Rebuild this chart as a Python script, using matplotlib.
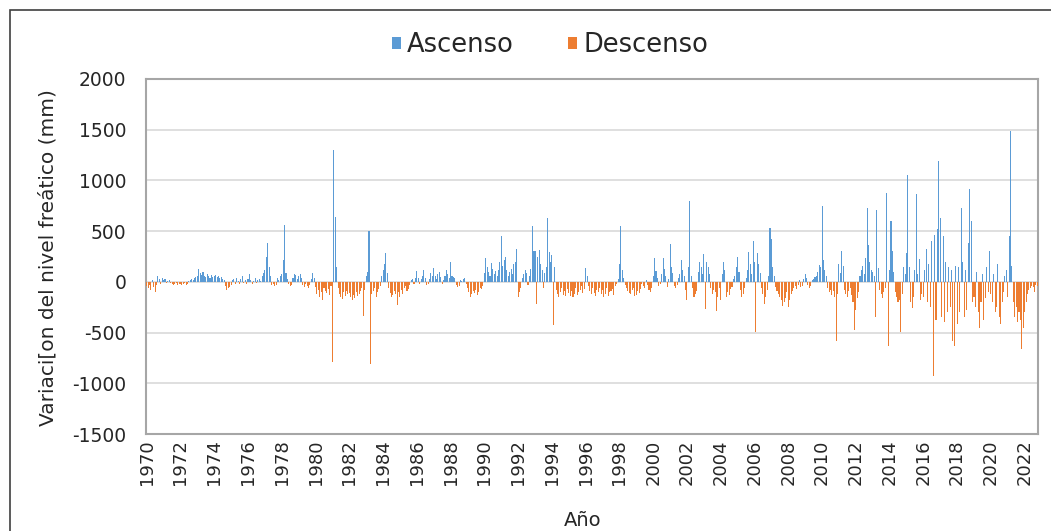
import numpy as np
import matplotlib.pyplot as plt
from matplotlib.patches import Patch, Rectangle

plt.rcParams["font.family"] = ["DejaVu Sans"]
plt.rcParams["axes.unicode_minus"] = False
plt.rcParams["text.color"] = "#262626"
plt.rcParams["xtick.color"] = "#262626"
plt.rcParams["ytick.color"] = "#262626"

# Monthly water-table change (mm), one row of 12 months per year
v1970s = [
    [-40, -60, -30, -80, 20, -50, -100, -30, 60, 30, -20, 40],        # 1970
    [20, 30, -10, 10, 20, -10, -20, -30, -20, -10, -30, -20],         # 1971
    [-20, -30, -20, -10, -30, -20, 10, 20, 30, 20, 40, 50],           # 1972
    [60, 130, 90, 70, 100, 60, 50, 80, 60, 40, 70, 50],               # 1973
    [60, 70, 50, 60, 40, 50, 30, 20, -40, -80, -60, -50],             # 1974
    [-30, 20, 30, -20, 40, 10, -20, 30, 60, -10, 20, -20],            # 1975
    [30, 80, 20, -20, 10, 40, -10, 20, 30, 10, 60, 90],               # 1976
    [120, 250, 380, 150, 60, -30, -20, -40, -30, 40, 20, 60],         # 1977
    [80, 220, 560, 90, 30, -20, -40, -30, 40, 80, 70, 30],            # 1978
    [60, 80, 40, -30, -50, -20, -40, -60, -30, 30, 90, 40],           # 1979
]
v1980s = [
    [-50, -120, -80, -150, -100, -180, -60, -90, -110, -70, -130, -40],
    [-790, 1300, 640, 150, -60, -120, -150, -170, -100, -140, -90, -120],
    [-110, -150, -180, -130, -160, -100, -140, -120, -90, -60, -335, -80],
    [60, 100, 500, -810, -120, -90, -60, -150, -100, -70, -40, 60],
    [120, 180, 285, 90, -60, -110, -150, -130, -90, -120, -230, -100],
    [-150, -80, -120, -60, -40, -90, -70, -30, 20, 30, -20, 40],
    [110, 40, -20, 30, 60, 120, 40, -30, -20, 30, 90, 60],
    [140, 60, 30, 80, 100, 50, -20, 20, 60, 120, 80, 40],
    [200, 60, 50, 40, -30, -50, -40, 20, 10, 30, 40, -20],
    [-60, -100, -150, -120, -90, -110, -80, -130, -100, -60, -70, -40],
]
v1990s = [
    [90, 240, 150, 100, 60, 190, 130, 80, 110, 60, 120, 200],
    [450, 160, 220, 250, 120, 60, 100, 130, 80, 180, 200, 325],
    [-150, -100, -60, 40, 80, 120, 90, -30, 60, 130, 550, 300],
    [300, -220, 250, 310, 180, 120, -60, 90, 150, 630, 290, 200],
    [260, -430, 150, -80, -120, -150, -100, -60, -130, -90, -140, -70],
    [-110, -140, -90, -150, -120, -60, -130, -100, -80, -40, -110, -70],
    [140, 60, -40, -90, -120, -60, -110, -140, -80, -100, -60, -120],
    [-80, -150, -120, -60, -140, -100, -90, -70, -130, -40, -20, 30],
    [180, 550, 120, 40, -30, -60, -90, -110, -120, -80, -60, -140],
    [-130, -90, -110, -70, -20, -40, -60, 20, -30, -80, -100, -60],
]
v2000s = [
    [60, 240, 110, 40, -40, -20, 80, 240, 130, 60, -50, 30],
    [375, 150, 90, -40, -60, -30, 40, 80, 220, 120, 60, -80],
    [-180, 150, 800, 60, -60, -150, -120, -90, 100, 200, 150, 80],
    [275, -265, 200, 150, 80, -60, -120, -80, -100, -285, -150, -60],
    [-180, 80, 200, 120, -150, -100, -130, -70, -50, 30, 60, 150],
    [250, 100, -80, -150, -120, -60, 40, 120, 290, 180, 80, 400],
    [200, -490, 280, 180, 90, -60, -120, -215, -150, -80, 60, 530],
    [420, 150, 60, -50, -90, -120, -150, -180, -235, -200, -160, -100],
    [-250, -180, -120, -90, -60, -40, -70, -30, 20, -50, -40, 30],
    [80, 40, -30, -60, -40, 20, 30, 50, 60, 100, 170, 150],
]
v2010s = [
    [750, 220, 120, 60, -60, -100, -80, -130, -90, -150, -580, -120],
    [180, 90, 300, 160, -80, -120, -150, -90, -60, -130, -200, -470],
    [-280, -160, -100, 60, 120, 160, 80, 240, 730, 360, 200, 120],
    [100, 60, -350, 710, 140, -80, -120, -160, -100, -60, 880, -630],
    [120, 600, 300, 100, -100, -150, -200, -180, -490, -120, 150, 80],
    [280, 1050, 150, -200, -260, -150, 120, 870, 80, 230, -180, -120],
    [-150, 120, 325, -200, 180, -250, 400, -930, 460, -380, 520, 1190],
    [630, -350, 450, -400, 200, -300, 150, -250, 120, -580, -630, 160],
    [-420, 150, -300, 730, 200, -350, 120, -280, 380, 920, 600, -200],
    [-150, -250, 100, -300, -450, -200, 80, -380, -160, 150, -100, 300],
]
v2020s = [
    [-120, -200, 80, -300, -250, 175, -350, -420, -200, -100, 60, 120],
    [-150, 450, 1490, 160, -200, -350, -250, -400, -300, -380, -660, -450],
    [-300, -200, -120, -80, -60, -40, -50, -100, -30, -40],            # 2022 (to Oct)
]

first_year, last_year = 1970, 2022
blue = "#5B9BD5"
orange = "#ED7D31"

monthly = np.array(
    [v for decade in (v1970s, v1980s, v1990s, v2000s, v2010s, v2020s)
     for year in decade for v in year], dtype=float)
ascenso = np.where(monthly > 0, monthly, 0)
descenso = np.where(monthly < 0, monthly, 0)
x = np.arange(len(monthly))

W, H = 1051, 531
fig = plt.figure(figsize=(W / 100, H / 100), dpi=100)
ax = fig.add_axes([146 / W, 1 - 434 / H, (1038 - 146) / W, (434 - 79) / H])

ax.bar(x, ascenso, width=0.75, color=blue, linewidth=0, zorder=3)
ax.bar(x, descenso, width=0.75, color=orange, linewidth=0, zorder=3)

ax.set_xlim(-0.5, len(monthly) - 0.5)
ax.set_ylim(-1500, 2000)
ax.set_yticks(np.arange(-1500, 2001, 500))
ax.yaxis.grid(True, color="#D9D9D9", linewidth=1.2, zorder=0)
ax.tick_params(axis="y", length=0, labelsize=13.5, pad=14)

year_ticks = np.arange(first_year, last_year + 1, 2)
ax.set_xticks((year_ticks - first_year) * 12)
ax.set_xticklabels([str(y) for y in year_ticks], rotation=90, fontsize=13)
ax.tick_params(axis="x", length=0, pad=4)

for side in ax.spines.values():
    side.set_color("#A6A6A6")
    side.set_linewidth(1.5)

fig.text(48 / W, 1 - 258 / H, "Variaci[on del nivel freático (mm)", rotation=90,
         ha="center", va="center", fontsize=14.5)
fig.text(583 / W, 1 - 521 / H, "Año", ha="center", va="center", fontsize=14)

handles = [Patch(facecolor=blue, label="Ascenso"), Patch(facecolor=orange, label="Descenso")]
fig.legend(handles=handles, loc="center", bbox_to_anchor=(550 / W, 1 - 45 / H), ncol=2,
           frameon=False, fontsize=18.5, handlelength=0.35, handleheight=0.35,
           handletextpad=0.25, columnspacing=2.1)

# chart area frame
fig.patches.append(Rectangle((10 / W, -0.05), 1.2, 1 - 10 / H + 0.05,
                             transform=fig.transFigure, fill=False,
                             edgecolor="#404040", linewidth=1.2))

fig.savefig("out.png", dpi=100)
